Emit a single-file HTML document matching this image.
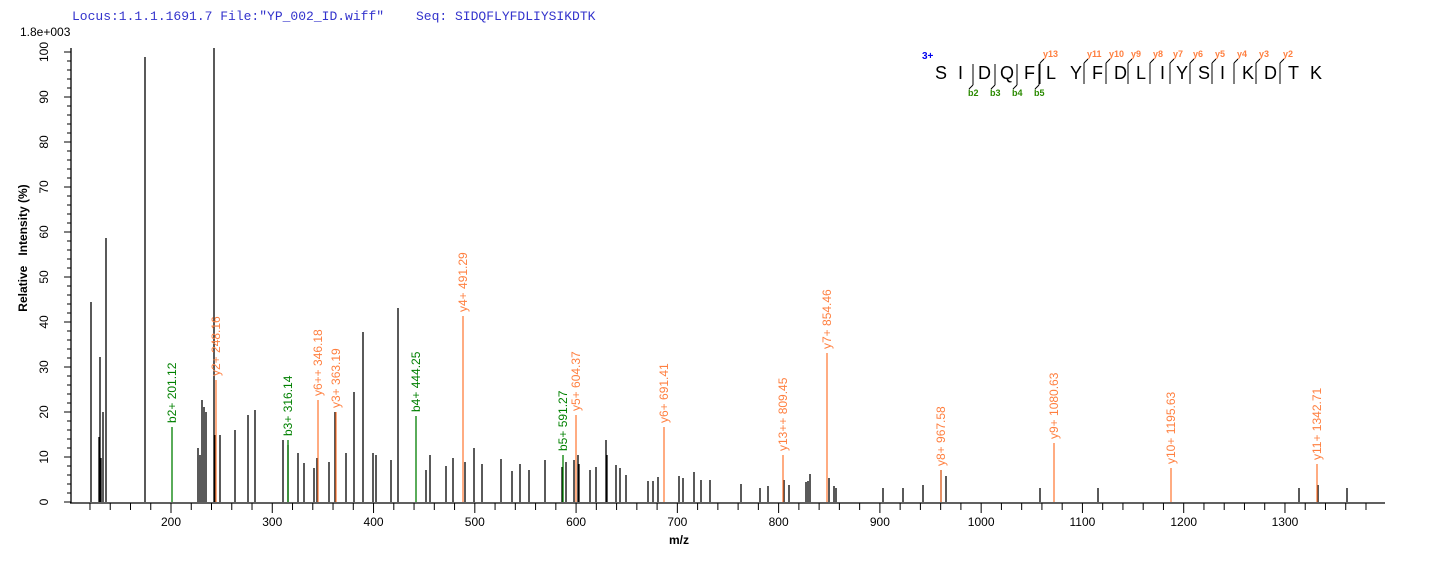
<!DOCTYPE html><html><head><style>body{margin:0;background:#fff}svg{display:block}text{font-family:"Liberation Sans",Arial,sans-serif}</style></head><body>
<svg width="1436" height="562" xmlns="http://www.w3.org/2000/svg">
<text x="72" y="20" font-family="Liberation Mono" font-size="13" fill="#3333cc" style="font-family:'Liberation Mono',monospace">Locus:1.1.1.1691.7 File:"YP_002_ID.wiff"</text>
<text x="416" y="20" font-size="13" fill="#3333cc" style="font-family:'Liberation Mono',monospace">Seq: SIDQFLYFDLIYSIKDTK</text>
<text x="20" y="36" font-size="12" fill="#000">1.8e+003</text>
<g stroke="#000" stroke-width="1.3">
<line x1="71" y1="48" x2="71" y2="503"/>
<line x1="70" y1="503" x2="1385" y2="503"/>
</g>
<g id="yt" stroke="#000"></g>
<g id="xt" stroke="#000"></g>
<g id="yl" font-size="12"></g>
<g id="xl" font-size="12"></g>
<text x="0" y="0" font-size="12" font-weight="bold" transform="translate(27,248) rotate(-90)" text-anchor="middle">Relative &#160; Intensity (%)</text>
<text x="679" y="544" font-size="12" font-weight="bold" text-anchor="middle">m/z</text>
<g id="pk" stroke="#000" stroke-width="1.3"></g>
<g id="cp" stroke-width="1.3"></g>
<g id="lb" font-size="12"></g>
<g font-size="18" fill="#000">
<text x="935" y="79">S</text><text x="958" y="79">I</text>
<text x="978" y="79">D</text><text x="1000" y="79">Q</text><text x="1024" y="79">F</text><text x="1046" y="79">L</text>
<text x="1070" y="79">Y</text><text x="1092" y="79">F</text><text x="1114" y="79">D</text><text x="1136" y="79">L</text>
<text x="1160" y="79">I</text><text x="1176" y="79">Y</text><text x="1198" y="79">S</text><text x="1220" y="79">I</text>
<text x="1242" y="79">K</text><text x="1264" y="79">D</text><text x="1288" y="79">T</text><text x="1310" y="79">K</text>
</g>
<text x="922" y="59" font-size="10" font-weight="bold" fill="#0000ee">3+</text>
<g id="frag" fill="none" stroke="#000" stroke-width="1"></g>
<g id="fl" font-size="9" font-weight="bold"></g>
<script>
var ns="http://www.w3.org/2000/svg";
function el(g,t,a,tx){var e=document.createElementNS(ns,t);for(var k in a)e.setAttribute(k,a[k]);if(tx!==undefined)e.textContent=tx;document.getElementById(g).appendChild(e);return e;}
for(var p=0;p<=100;p+=2){var y=502-p*4.5;el('yt','line',{x1:p%10==0?64:67,y1:y,x2:71,y2:y});if(p%10==0){el('yl','text',{x:0,y:0,transform:'translate(48,'+y+') rotate(-90)','text-anchor':'middle'},p);}}
function X(m){return 171+(m-200)*1.0127;}
for(var m=100;m<=1380;m+=20){var x=X(m);if(x<71)continue;el('xt','line',{x1:x,y1:503,x2:x,y2:m%100==0?513:510});if(m%100==0&&m>=200)el('xl','text',{x:x,y:526,'text-anchor':'middle'},m);}
var bk=[[91,302],[99,437],[100,357],[101,458],[103,412],[106,238],[145,57],[198,448],[200,455],[202,400],[204,407],[206,412],[214,48],[215,435],[220,435],[235,430],[248,415],[255,410],[283,440],[288,445],[298,453],[304,463],[314,468],[317,458],[329,462],[335,412],[346,453],[354,392],[363,332],[373,453],[376,455],[391,460],[398,308],[426,470],[430,455],[446,466],[453,458],[465,462],[474,448],[482,464],[501,459],[512,471],[520,464],[529,470],[545,460],[562,467],[566,462],[574,460],[578,455],[579,464],[590,470],[596,467],[606,440],[607,455],[616,465],[620,468],[626,475],[648,481],[653,481],[658,477],[679,476],[683,478],[694,472],[701,480],[710,480],[741,484],[760,488],[768,486],[784,480],[789,485],[806,482],[808,481],[810,474],[829,478],[834,486],[836,488],[883,488],[903,488],[923,485],[941,470],[946,476],[1040,488],[1098,488],[1299,488],[1318,485],[1347,488]];
bk.forEach(function(b){el('pk','line',{x1:b[0],y1:502,x2:b[0],y2:b[1]});});
var G="#008000",O="#ff7f3f";
var cp=[[172,427,G,"b2+ 201.12"],[216,380,O,"y2+ 248.16"],[288,440,G,"b3+ 316.14"],[318,400,O,"y6++ 346.18"],[336,412,O,"y3+ 363.19"],[416,416,G,"b4+ 444.25"],[463,316,O,"y4+ 491.29"],[563,455,G,"b5+ 591.27"],[576,415,O,"y5+ 604.37"],[664,427,O,"y6+ 691.41"],[783,455,O,"y13++ 809.45"],[827,353,O,"y7+ 854.46"],[941,470,O,"y8+ 967.58"],[1054,443,O,"y9+ 1080.63"],[1171,468,O,"y10+ 1195.63"],[1317,464,O,"y11+ 1342.71"]];
cp.forEach(function(c){el('cp','line',{x1:c[0],y1:502,x2:c[0],y2:c[1],stroke:c[2]});el('lb','text',{x:0,y:0,fill:c[2],transform:'translate('+(c[0]+4)+','+(c[1]-4)+') rotate(-90)'},c[3]);});
// fragment brackets
var bx=[[978,'b2'],[1000,'b3'],[1022,'b4'],[1044,'b5']];
bx.forEach(function(b){el('frag','path',{d:'M'+(b[0]-5)+' 85 L'+(b[0]-5)+' 64 M'+(b[0]-5)+' 85 L'+(b[0]-9)+' 89'});el('fl','text',{x:b[0]-10,y:96,fill:'#2a8a00'},b[1]);});
var yx=[[1046,'y13'],[1090,'y11'],[1112,'y10'],[1134,'y9'],[1156,'y8'],[1176,'y7'],[1196,'y6'],[1218,'y5'],[1240,'y4'],[1262,'y3'],[1286,'y2']];
yx.forEach(function(b){el('frag','path',{d:'M'+(b[0]-6)+' 63 L'+(b[0]-6)+' 84 M'+(b[0]-6)+' 63 L'+(b[0]-2)+' 59'});el('fl','text',{x:b[0]-3,y:57,fill:'#ff7f3f'},b[1]);});
</script>
</svg></body></html>
